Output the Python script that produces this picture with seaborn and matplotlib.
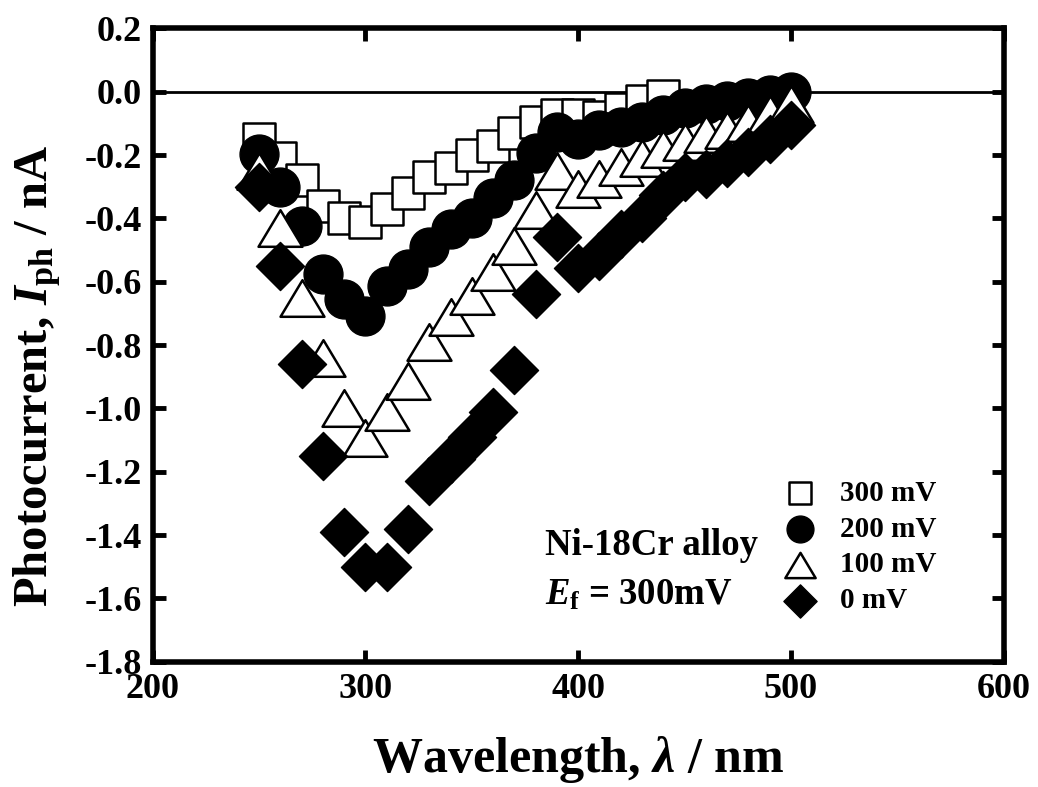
import numpy as np
import pandas as pd
import matplotlib
matplotlib.use("Agg")
import matplotlib.pyplot as plt
from matplotlib.path import Path
import seaborn as sns

# Photocurrent spectra of Ni-18Cr alloy at different applied potentials
wl_300 = [250, 260, 270, 280, 290, 300, 310, 320, 330, 340, 350, 360, 370,
          380, 390, 400, 410, 420, 430, 440]
ip_300 = [-0.15, -0.21, -0.28, -0.36, -0.40, -0.41, -0.37, -0.32, -0.27, -0.24,
          -0.20, -0.17, -0.13, -0.095, -0.075, -0.075, -0.08, -0.055, -0.03, -0.015]

wl_200 = [250, 260, 270, 280, 290, 300, 310, 320, 330, 340, 350, 360, 370, 380,
          390, 400, 410, 420, 430, 440, 450, 460, 470, 480, 490, 500]
ip_200 = [-0.196, -0.30, -0.425, -0.577, -0.655, -0.708, -0.613, -0.56, -0.49, -0.435,
          -0.40, -0.335, -0.28, -0.195, -0.126, -0.15, -0.12, -0.11, -0.095, -0.075,
          -0.05, -0.04, -0.03, -0.02, -0.01, 0.0]

wl_100 = [250, 260, 270, 280, 290, 300, 310, 320, 330, 340, 350, 360, 370, 380,
          390, 400, 410, 420, 430, 440, 450, 460, 470, 480, 490, 500]
ip_100 = [-0.25, -0.43, -0.65, -0.84, -1.00, -1.095, -1.01, -0.913, -0.79, -0.71,
          -0.644, -0.568, -0.486, -0.375, -0.25, -0.307, -0.275, -0.238, -0.21, -0.18,
          -0.16, -0.135, -0.12, -0.10, -0.07, -0.04]

wl_0 = [250, 260, 270, 280, 290, 300, 310, 320, 330, 340, 350, 360, 370, 380,
        390, 400, 410, 420, 430, 440, 450, 460, 470, 480, 490, 500]
ip_0 = [-0.30, -0.55, -0.86, -1.15, -1.39, -1.50, -1.50, -1.38, -1.23, -1.16,
        -1.09, -1.01, -0.88, -0.64, -0.46, -0.556, -0.52, -0.45, -0.40, -0.325,
        -0.27, -0.26, -0.225, -0.19, -0.15, -0.105]

series_labels = ["300 mV", "200 mV", "100 mV", "0 mV"]
x_ticks = [200, 300, 400, 500, 600]
y_ticks = [0.2, 0.0, -0.2, -0.4, -0.6, -0.8, -1.0, -1.2, -1.4, -1.6, -1.8]

sns.set_style("ticks")
plt.rcParams["font.family"] = ["Liberation Serif", "DejaVu Serif"]
plt.rcParams["font.weight"] = "bold"
plt.rcParams["axes.unicode_minus"] = False
for key in ["text.color", "axes.labelcolor", "xtick.color", "ytick.color",
            "axes.edgecolor"]:
    plt.rcParams[key] = "black"
plt.rcParams["mathtext.fontset"] = "custom"
plt.rcParams["mathtext.rm"] = "Liberation Serif:bold"
plt.rcParams["mathtext.it"] = "Liberation Serif:bold:italic"
plt.rcParams["mathtext.bf"] = "Liberation Serif:bold"

fig = plt.figure(figsize=(10.38, 7.87), dpi=100)
ax = fig.add_axes([0.1471, 0.1592, 0.8199, 0.8047])

ax.axhline(0.0, color="black", lw=2.0, zorder=1)

# wide open triangle (closed outline)
tri = Path([(-1.2, -1.0), (1.2, -1.0), (0.0, 1.0), (-1.2, -1.0)],
           [Path.MOVETO, Path.LINETO, Path.LINETO, Path.CLOSEPOLY])
styles = [
    (wl_300, ip_300, "s", 548, "white", 1.8),
    (wl_200, ip_200, "o", 784, "black", 1.0),
    (wl_100, ip_100, tri, 1000, "white", 1.8),
    (wl_0, ip_0, "D", 600, "black", 1.0),
]

handles = []
for (wl, ip, mk, size, fc, lw), lab in zip(styles, series_labels):
    df = pd.DataFrame({"wavelength": wl, "photocurrent": ip})
    sns.scatterplot(data=df, x="wavelength", y="photocurrent", ax=ax,
                    marker=mk, s=size, facecolor=fc, edgecolor="black",
                    linewidth=lw, label=lab, zorder=3, legend=False)
    handles.append(ax.collections[-1])

ax.set_xlim(200, 600)
ax.set_ylim(-1.8, 0.2)
ax.set_xticks(x_ticks)
ax.set_yticks(y_ticks)
ax.set_xticklabels([str(v) for v in x_ticks])
ax.set_yticklabels(["%.1f" % v for v in y_ticks])

for sp in ax.spines.values():
    sp.set_linewidth(4.0)
    sp.set_color("black")
ax.tick_params(direction="in", length=9, width=3.5, top=True, right=True,
               labelsize=26, pad=8, colors="black")
for lbl in ax.get_xticklabels() + ax.get_yticklabels():
    lbl.set_fontweight("bold")

ax.set_xlabel(r"Wavelength, $\mathit{\lambda}$ / nm", fontsize=36,
              fontweight="bold", labelpad=20)
ax.set_ylabel(r"Photocurrent, $\mathit{I}_{\mathrm{ph}}$ / nA", fontsize=35,
              fontweight="bold")
ax.yaxis.set_label_coords(-0.105, 0.451)

ax.text(0.461, 0.184, "Ni-18Cr alloy", transform=ax.transAxes, fontsize=26.5,
        fontweight="bold", ha="left", va="center")
ax.text(0.461, 0.105, r"$\mathit{E}_{\mathrm{f}}$ = 300mV", transform=ax.transAxes,
        fontsize=26.5, fontweight="bold", ha="left", va="center")

leg = ax.legend(handles, series_labels, loc="center left",
                bbox_to_anchor=(0.7395, 0.181), frameon=False, markerscale=0.69,
                fontsize=21, handletextpad=0.8, labelspacing=0.3,
                borderaxespad=0.0, borderpad=0.0, handlelength=1.2)
for t in leg.get_texts():
    t.set_fontweight("bold")

fig.savefig("out.png", dpi=100)
